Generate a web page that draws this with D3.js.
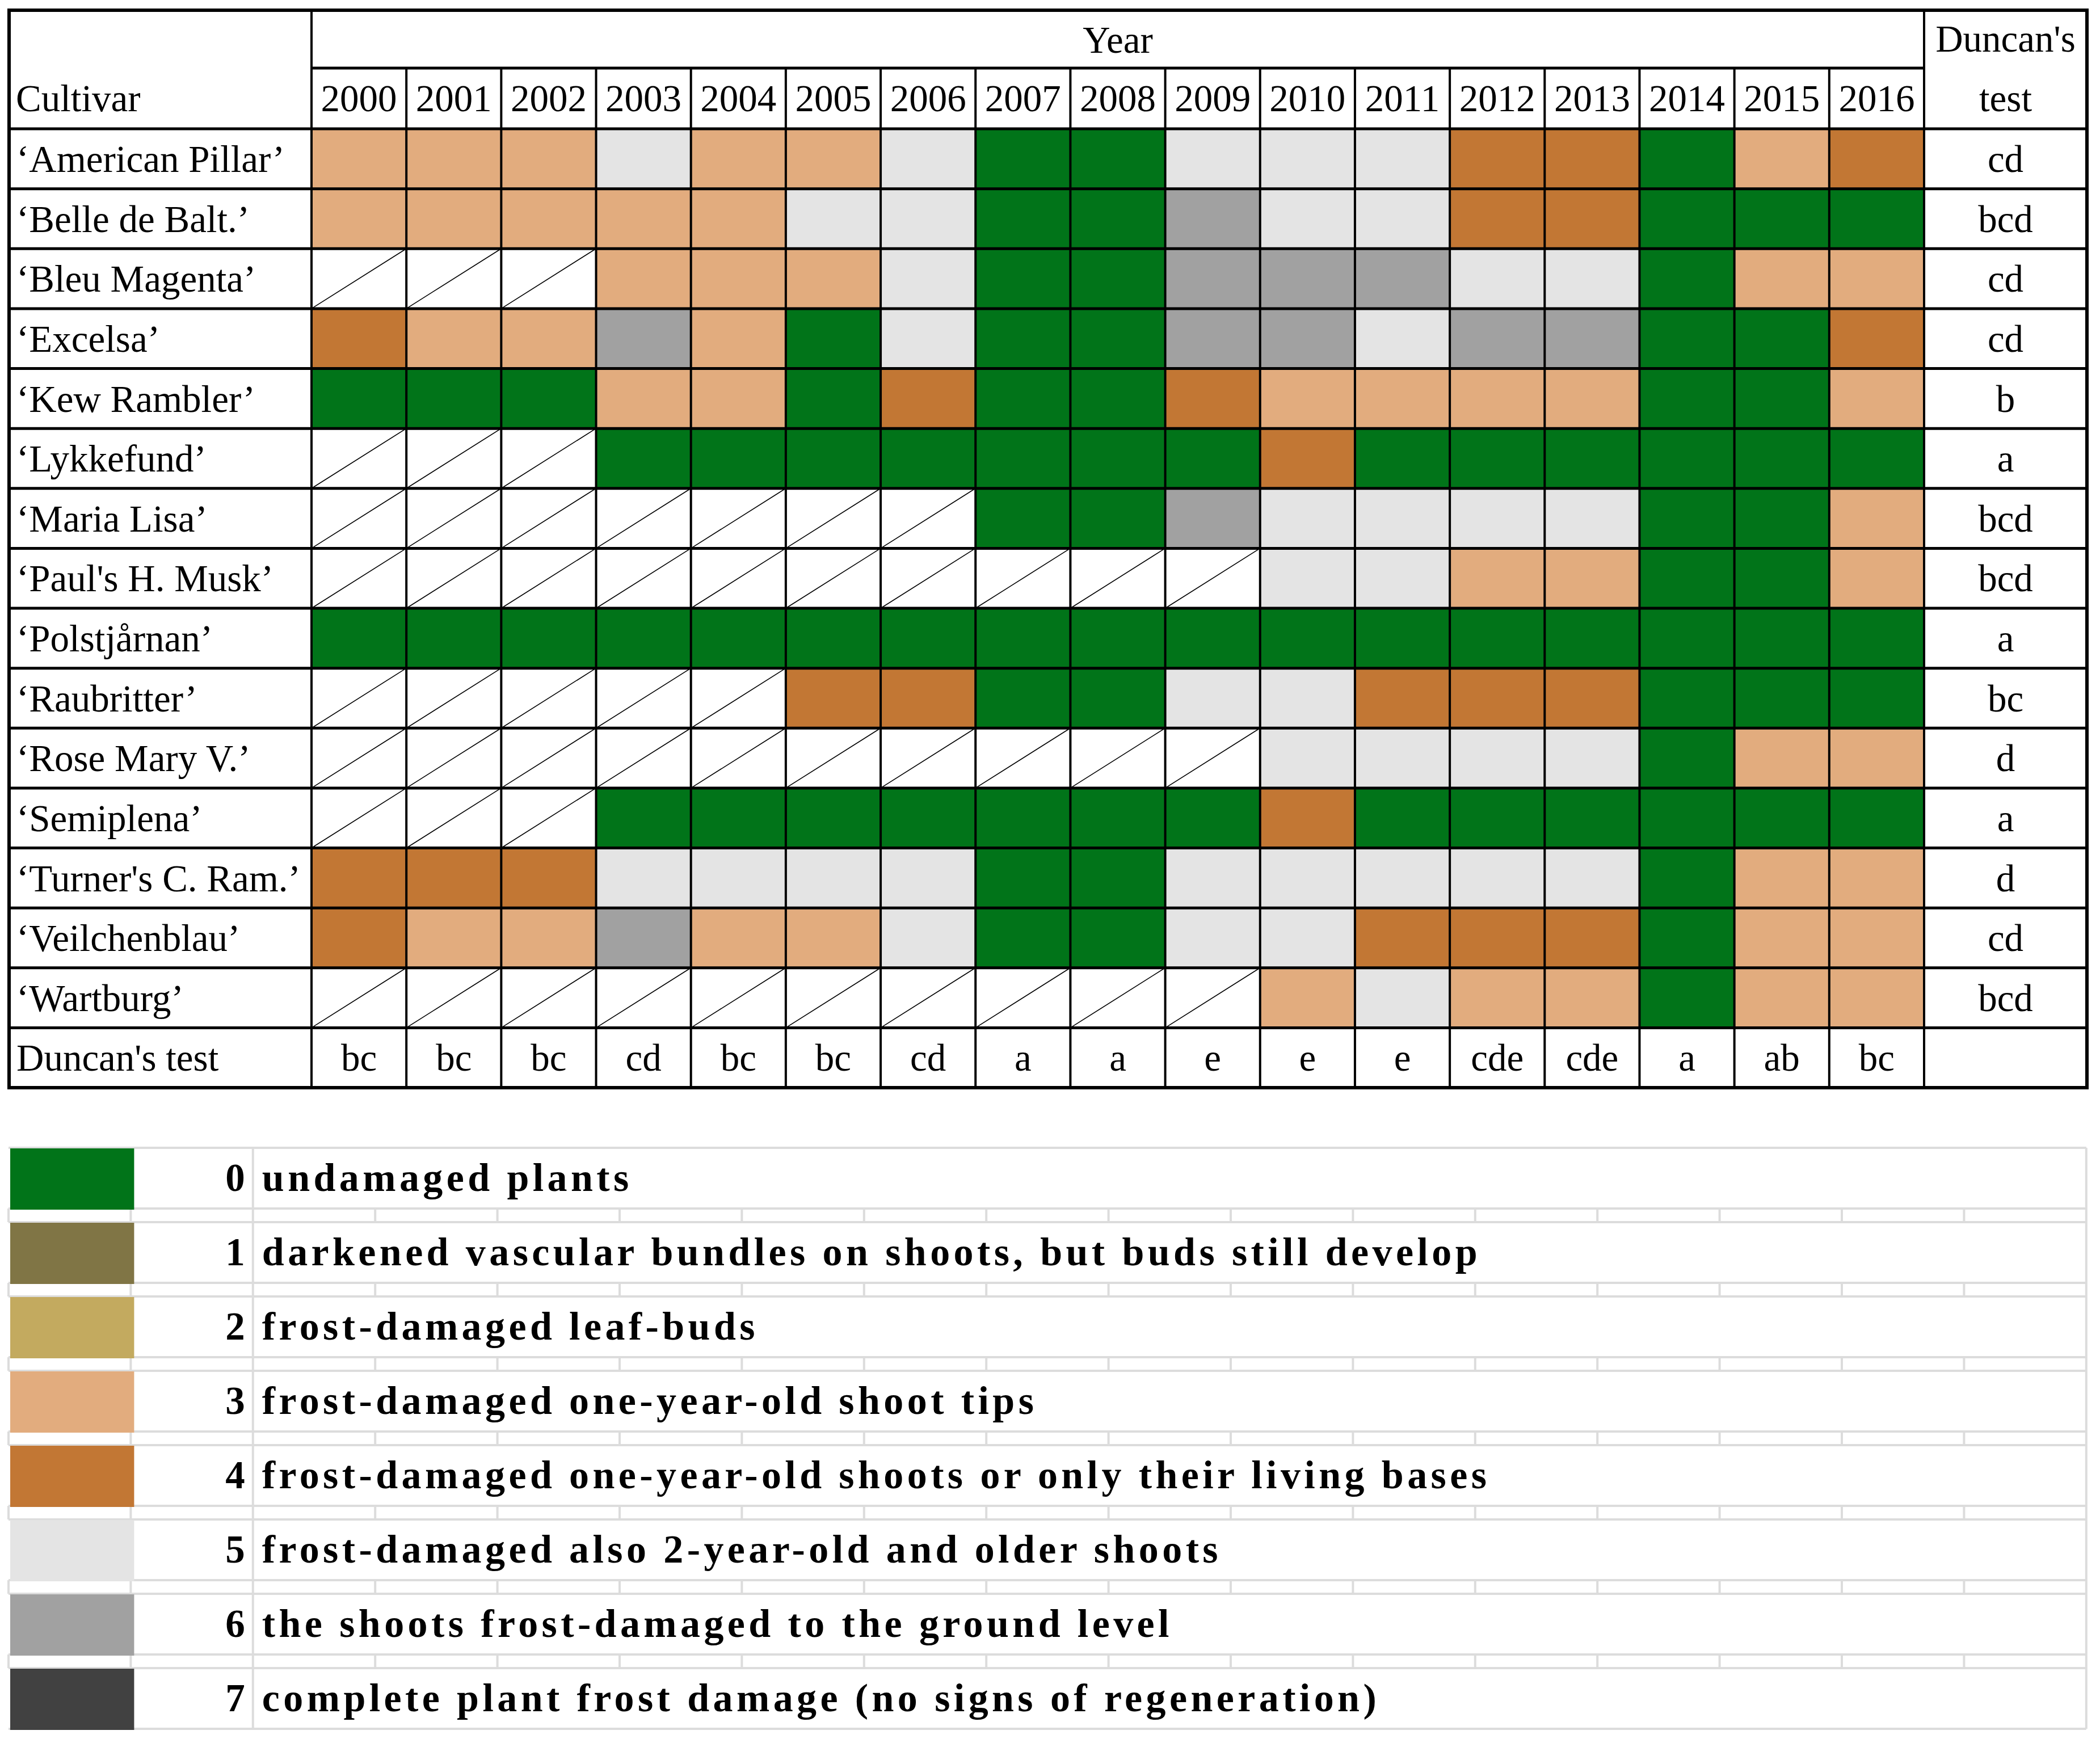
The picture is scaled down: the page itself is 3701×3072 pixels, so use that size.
<!DOCTYPE html>
<html lang="en">
	<head>
		<meta charset="UTF-8">
		<title>Frost damage of rambler roses</title>
		<script src="https://cdnjs.cloudflare.com/ajax/libs/d3/7.8.5/d3.min.js"></script>
		<style>
			body { margin: 0; background: #fff; }
			text { font-family: "Liberation Serif", "Times New Roman", serif; fill: #000; }
		</style>
		<script>
// ---- data ----
var years = ["2000", "2001", "2002", "2003", "2004", "2005", "2006", "2007", "2008",
	"2009", "2010", "2011", "2012", "2013", "2014", "2015", "2016"];

var cultivars = ["\u2018American Pillar\u2019", "\u2018Belle de Balt.\u2019", "\u2018Bleu Magenta\u2019",
	"\u2018Excelsa\u2019", "\u2018Kew Rambler\u2019", "\u2018Lykkefund\u2019", "\u2018Maria Lisa\u2019",
	"\u2018Paul's H. Musk\u2019", "\u2018Polstj\u00e5rnan\u2019", "\u2018Raubritter\u2019",
	"\u2018Rose Mary V.\u2019", "\u2018Semiplena\u2019", "\u2018Turner's C. Ram.\u2019",
	"\u2018Veilchenblau\u2019", "\u2018Wartburg\u2019"];

// damage score per cultivar and year, null = not grown that year
var _ = null;
var ratings = [
	[3, 3, 3, 5, 3, 3, 5, 0, 0, 5, 5, 5, 4, 4, 0, 3, 4],
	[3, 3, 3, 3, 3, 5, 5, 0, 0, 6, 5, 5, 4, 4, 0, 0, 0],
	[_, _, _, 3, 3, 3, 5, 0, 0, 6, 6, 6, 5, 5, 0, 3, 3],
	[4, 3, 3, 6, 3, 0, 5, 0, 0, 6, 6, 5, 6, 6, 0, 0, 4],
	[0, 0, 0, 3, 3, 0, 4, 0, 0, 4, 3, 3, 3, 3, 0, 0, 3],
	[_, _, _, 0, 0, 0, 0, 0, 0, 0, 4, 0, 0, 0, 0, 0, 0],
	[_, _, _, _, _, _, _, 0, 0, 6, 5, 5, 5, 5, 0, 0, 3],
	[_, _, _, _, _, _, _, _, _, _, 5, 5, 3, 3, 0, 0, 3],
	[0, 0, 0, 0, 0, 0, 0, 0, 0, 0, 0, 0, 0, 0, 0, 0, 0],
	[_, _, _, _, _, 4, 4, 0, 0, 5, 5, 4, 4, 4, 0, 0, 0],
	[_, _, _, _, _, _, _, _, _, _, 5, 5, 5, 5, 0, 3, 3],
	[_, _, _, 0, 0, 0, 0, 0, 0, 0, 4, 0, 0, 0, 0, 0, 0],
	[4, 4, 4, 5, 5, 5, 5, 0, 0, 5, 5, 5, 5, 5, 0, 3, 3],
	[4, 3, 3, 6, 3, 3, 5, 0, 0, 5, 5, 4, 4, 4, 0, 3, 3],
	[_, _, _, _, _, _, _, _, _, _, 3, 5, 3, 3, 0, 3, 3]
];

var cultivarDuncan = ["cd", "bcd", "cd", "cd", "b", "a", "bcd", "bcd", "a", "bc", "d", "a", "d", "cd", "bcd"];
var yearDuncan = ["bc", "bc", "bc", "cd", "bc", "bc", "cd", "a", "a", "e", "e", "e", "cde", "cde", "a", "ab", "bc"];

var damageScores = [0, 1, 2, 3, 4, 5, 6, 7];
var damageColors = ["#017419", "#807545", "#c3aa5f", "#e2ac7e", "#c27734", "#e4e4e4", "#a1a1a1", "#414141"];
var damageLabels = [
	"undamaged plants",
	"darkened vascular bundles on shoots, but buds still develop",
	"frost-damaged leaf-buds",
	"frost-damaged one-year-old shoot tips",
	"frost-damaged one-year-old shoots or only their living bases",
	"frost-damaged also 2-year-old and older shoots",
	"the shoots frost-damaged to the ground level",
	"complete plant frost damage (no signs of regeneration)"
];

function makeTable() {
	var W = 3701, H = 3072;
	var left = 16, right = 3678, top = 18, yearLine = 120, headBottom = 227, bottom = 1917;
	var nameRight = 549, yearsRight = 3391;
	var fs = 67;

	var svg = d3.select("body").append("svg")
		.attr("width", W)
		.attr("height", H);

	var rows = cultivars.concat(["Duncan's test"]);

	var scX = d3.scaleBand()
		.domain(years)
		.range([nameRight, yearsRight]);

	var scY = d3.scaleBand()
		.domain(rows)
		.range([headBottom, bottom]);

	var colour = d3.scaleOrdinal()
		.domain(damageScores)
		.range(damageColors);

	var cells = [];
	cultivars.forEach((c, i) => {
		years.forEach((yr, j) => cells.push({ c: c, yr: yr, v: ratings[i][j] }));
	});

	// cells
	svg.append("g")
		.selectAll("rect")
		.data(cells)
		.enter()
		.append("rect")
		.attr("x", d => scX(d.yr))
		.attr("y", d => scY(d.c))
		.attr("width", scX.bandwidth())
		.attr("height", scY.bandwidth())
		.attr("fill", d => d.v === null ? "#fff" : colour(d.v));

	// not grown -> diagonal
	svg.append("g")
		.selectAll("line")
		.data(cells.filter(d => d.v === null))
		.enter()
		.append("line")
		.attr("x1", d => scX(d.yr))
		.attr("y1", d => scY(d.c) + scY.bandwidth())
		.attr("x2", d => scX(d.yr) + scX.bandwidth())
		.attr("y2", d => scY(d.c))
		.attr("stroke", "#000")
		.attr("stroke-width", 1.6);

	// grid
	var grid = svg.append("g").attr("stroke", "#000");

	grid.selectAll("line.h")
		.data(rows)
		.enter()
		.append("line")
		.attr("x1", left).attr("x2", right)
		.attr("y1", d => scY(d)).attr("y2", d => scY(d))
		.attr("stroke-width", 5);

	grid.append("line")
		.attr("x1", nameRight).attr("x2", yearsRight)
		.attr("y1", yearLine).attr("y2", yearLine)
		.attr("stroke-width", 5);

	grid.selectAll("line.v")
		.data(years.slice(1))
		.enter()
		.append("line")
		.attr("x1", d => scX(d)).attr("x2", d => scX(d))
		.attr("y1", yearLine).attr("y2", bottom)
		.attr("stroke-width", 4);

	grid.selectAll("line.vv")
		.data([nameRight, yearsRight])
		.enter()
		.append("line")
		.attr("x1", d => d).attr("x2", d => d)
		.attr("y1", top).attr("y2", bottom)
		.attr("stroke-width", 4);

	grid.append("rect")
		.attr("x", left).attr("y", top)
		.attr("width", right - left).attr("height", bottom - top)
		.attr("fill", "none")
		.attr("stroke-width", 6);

	// header text
	var head = svg.append("g").attr("font-size", fs);
	head.append("text").attr("x", 28).attr("y", 196).text("Cultivar");
	head.append("text").attr("x", (nameRight + yearsRight) / 2).attr("y", 93)
		.attr("text-anchor", "middle").text("Year");
	head.append("text").attr("x", (yearsRight + right) / 2).attr("y", 91)
		.attr("text-anchor", "middle").text("Duncan's");
	head.append("text").attr("x", (yearsRight + right) / 2).attr("y", 196)
		.attr("text-anchor", "middle").text("test");
	head.selectAll("text.yr")
		.data(years)
		.enter()
		.append("text")
		.attr("x", d => scX(d) + scX.bandwidth() / 2)
		.attr("y", 196)
		.attr("text-anchor", "middle")
		.text(d => d);

	var body = svg.append("g").attr("font-size", fs);
	body.selectAll("text.name")
		.data(rows)
		.enter()
		.append("text")
		.attr("x", 29)
		.attr("y", d => scY(d) + scY.bandwidth() * 0.72)
		.text(d => d);

	body.selectAll("text.cd")
		.data(cultivarDuncan)
		.enter()
		.append("text")
		.attr("x", (yearsRight + right) / 2)
		.attr("y", (d, i) => scY(cultivars[i]) + scY.bandwidth() * 0.72)
		.attr("text-anchor", "middle")
		.text(d => d);

	body.selectAll("text.yd")
		.data(yearDuncan)
		.enter()
		.append("text")
		.attr("x", (d, i) => scX(years[i]) + scX.bandwidth() / 2)
		.attr("y", scY("Duncan's test") + scY.bandwidth() * 0.72)
		.attr("text-anchor", "middle")
		.text(d => d);

	// ---- legend (spreadsheet-like grid) ----
	var lgY = d3.scaleLinear().domain([0, 1]).range([2023, 2154]);
	var lgX = d3.scaleLinear().domain([0, 1]).range([15, 230.4]);
	var tall = 107;
	var gridCol = "#dcdcdc";
	var cols = d3.range(18);
	var legend = svg.append("g");

	damageScores.forEach((s, i) => {
		var t = lgY(i);
		legend.append("line")
			.attr("x1", lgX(0)).attr("x2", lgX(17))
			.attr("y1", t).attr("y2", t)
			.attr("stroke", gridCol).attr("stroke-width", 4);
		legend.append("line")
			.attr("x1", lgX(0)).attr("x2", lgX(17))
			.attr("y1", t + tall).attr("y2", t + tall)
			.attr("stroke", gridCol).attr("stroke-width", 4);
		legend.selectAll(null)
			.data([2, 17])
			.enter()
			.append("line")
			.attr("x1", k => lgX(k)).attr("x2", k => lgX(k))
			.attr("y1", t).attr("y2", t + tall)
			.attr("stroke", gridCol).attr("stroke-width", 4);
		if (i < damageScores.length - 1) {
			legend.selectAll(null)
				.data(cols)
				.enter()
				.append("line")
				.attr("x1", k => lgX(k)).attr("x2", k => lgX(k))
				.attr("y1", t + tall).attr("y2", lgY(i + 1))
				.attr("stroke", gridCol).attr("stroke-width", 4);
		}
	});

	legend.selectAll("rect")
		.data(damageScores)
		.enter()
		.append("rect")
		.attr("x", lgX(0) + 3)
		.attr("y", d => lgY(d) + 1)
		.attr("width", lgX(1) - lgX(0) + 3)
		.attr("height", tall + 1)
		.attr("fill", d => colour(d));

	legend.selectAll("text.num")
		.data(damageScores)
		.enter()
		.append("text")
		.attr("x", lgX(2) - 14)
		.attr("y", d => lgY(d) + 76)
		.attr("text-anchor", "end")
		.attr("font-size", 69)
		.attr("font-weight", "bold")
		.text(d => d);

	legend.selectAll("text.lab")
		.data(damageLabels)
		.enter()
		.append("text")
		.attr("x", lgX(2) + 16)
		.attr("y", (d, i) => lgY(i) + 76)
		.attr("font-size", 70)
		.attr("font-weight", "bold")
		.attr("letter-spacing", 6.4)
		.text(d => d);
}
		</script>
	</head>
	<body onload="makeTable()">
	</body>
</html>
